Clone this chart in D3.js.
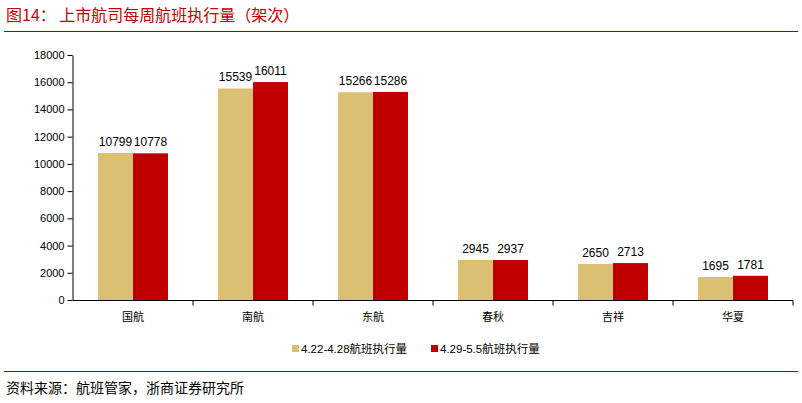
<!DOCTYPE html>
<html>
<head>
<meta charset="utf-8">
<script src="https://d3js.org/d3.v7.min.js"></script>
<style>
  body { margin: 0; background: #fff; }
  text { font-family: "Liberation Sans", "Noto Sans CJK SC", sans-serif; }
</style>
</head>
<body>
<div id="chart"></div>
<script>
const airlines = ['国航', '南航', '东航', '春秋', '吉祥', '华夏'];
const week1 = [10799, 15539, 15266, 2945, 2650, 1695];
const week2 = [10778, 16011, 15286, 2937, 2713, 1781];
const seriesNames = ['4.22-4.28航班执行量', '4.29-5.5航班执行量'];
const colors = ['#DBC074', '#C00000'];
const yTicks = [0, 2000, 4000, 6000, 8000, 10000, 12000, 14000, 16000, 18000];

const w = 802, h = 403;
const svg = d3.select('#chart').append('svg').attr('width', w).attr('height', h);

// title + rules
svg.append('text').attr('x', 6).attr('y', 21)
   .style('font-family', '"Noto Sans CJK SC", sans-serif')
   .style('font-size', '16px').style('fill', '#C00000')
   .text('图14：  上市航司每周航班执行量（架次）');
svg.append('line').attr('x1', 4).attr('x2', 798).attr('y1', 31.5).attr('y2', 31.5)
   .style('stroke', '#A00000').style('stroke-width', 1.2);
svg.append('line').attr('x1', 4).attr('x2', 798).attr('y1', 371.5).attr('y2', 371.5)
   .style('stroke', '#A00000').style('stroke-width', 1.2);
svg.append('text').attr('x', 6).attr('y', 393)
   .style('font-family', '"Noto Sans CJK SC", sans-serif')
   .style('font-size', '14px').style('fill', '#000')
   .text('资料来源：航班管家，浙商证券研究所');

const x = d3.scaleBand().domain(airlines).range([73, 793]);
const y = d3.scaleLinear().domain([0, 18000]).range([300, 55]);

const yAxis = svg.append('g').attr('transform', 'translate(72.5,0)')
   .call(d3.axisLeft(y).tickValues(yTicks).tickSize(5).tickSizeOuter(0).tickFormat(d3.format('d')));
yAxis.selectAll('text').style('font-size', '11px').style('fill', '#000');
yAxis.selectAll('line,path').style('stroke', '#000');

const xAxis = svg.append('g').attr('transform', 'translate(0,300.5)')
   .call(d3.axisBottom(x).tickSize(5).tickSizeOuter(0).tickPadding(8));
xAxis.select('.domain').attr('d', 'M73,0H793');
xAxis.selectAll('.tick line').attr('x1', x.step() / 2).attr('x2', x.step() / 2);
xAxis.selectAll('text').style('font-size', '11px').style('fill', '#000')
   .style('font-family', '"Noto Sans CJK SC", sans-serif');
xAxis.selectAll('line,path').style('stroke', '#000');

const barW = 35;
const series = [week1, week2];
series.forEach((vals, s) => {
  const g = svg.append('g');
  g.selectAll('rect').data(vals).enter().append('rect')
    .attr('x', (d, i) => x(airlines[i]) + x.step() / 2 - barW + s * barW)
    .attr('y', d => y(d))
    .attr('width', barW)
    .attr('height', d => 300 - y(d))
    .style('fill', colors[s]);
  g.selectAll('text').data(vals).enter().append('text')
    .attr('x', (d, i) => x(airlines[i]) + x.step() / 2 - barW / 2 + s * barW)
    .attr('y', d => y(d) - 7)
    .attr('text-anchor', 'middle')
    .style('font-size', '12px')
    .text(d => d);
});

// legend
const lx = [292, 431];
seriesNames.forEach((n, i) => {
  svg.append('rect').attr('x', lx[i]).attr('y', 345).attr('width', 7).attr('height', 7).style('fill', colors[i]);
  svg.append('text').attr('x', lx[i] + 9).attr('y', 352.5).style('font-size', '11.5px').text(n);
});
</script>
</body>
</html>
